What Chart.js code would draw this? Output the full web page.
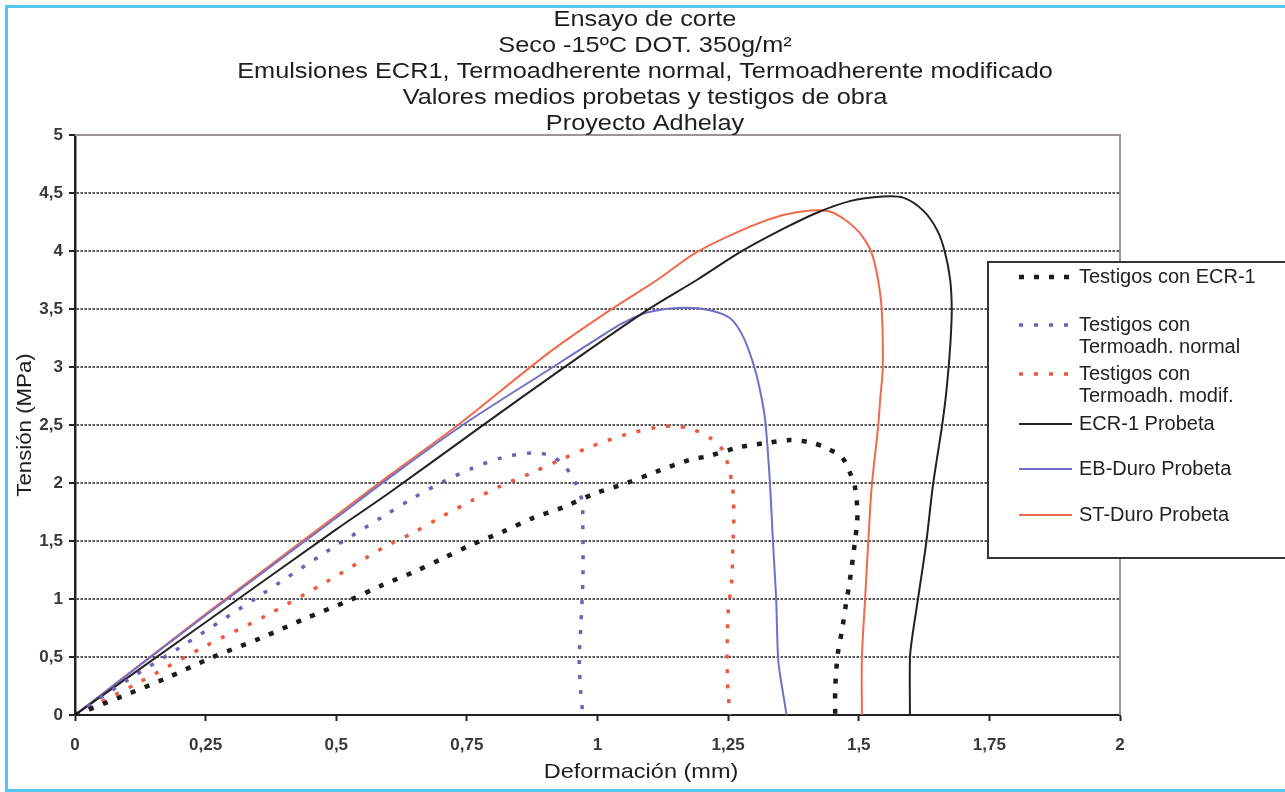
<!DOCTYPE html>
<html>
<head>
<meta charset="utf-8">
<title>Ensayo de corte</title>
<script src="https://cdn.jsdelivr.net/npm/chart.js"></script>
<style>
  html, body { margin: 0; padding: 0; background: #fff; }
</style>
</head>
<body>
<canvas id="myChart" width="1285" height="792"></canvas>
<script>
// --- texts ---
const titleLines = [
    'Ensayo de corte',
    'Seco -15ºC DOT. 350g/m²',
    'Emulsiones ECR1, Termoadherente normal, Termoadherente modificado',
    'Valores medios probetas y testigos de obra',
    'Proyecto Adhelay'
];
const xTitle = 'Deformación (mm)';
const yTitle = 'Tensión (MPa)';
const xTickLabels = ['0', '0,25', '0,5', '0,75', '1', '1,25', '1,5', '1,75', '2'];
const yTickLabels = ['0', '0,5', '1', '1,5', '2', '2,5', '3', '3,5', '4', '4,5', '5'];
const legendLabels = [
    ['Testigos con ECR-1'],
    ['Testigos con', 'Termoadh. normal'],
    ['Testigos con', 'Termoadh. modif.'],
    ['ECR-1 Probeta'],
    ['EB-Duro Probeta'],
    ['ST-Duro Probeta']
];

// --- series (deformation mm / stress MPa) ---
const ecrTestigosX = [0, 0.09, 0.176, 0.264, 0.354, 0.44, 0.526, 0.588, 0.647, 0.704, 0.76, 0.819, 0.877, 0.934, 0.995, 1.056, 1.114, 1.177, 1.21, 1.273, 1.33, 1.368, 1.407, 1.439, 1.468, 1.483, 1.493, 1.497, 1.497, 1.493, 1.489, 1.481, 1.476, 1.468, 1.46, 1.455, 1.455];
const ecrTestigosY = [0, 0.16, 0.32, 0.50, 0.66, 0.83, 0.99, 1.12, 1.23, 1.35, 1.47, 1.58, 1.70, 1.79, 1.91, 2.00, 2.10, 2.20, 2.23, 2.31, 2.35, 2.37, 2.35, 2.30, 2.22, 2.09, 1.96, 1.79, 1.66, 1.51, 1.36, 1.10, 0.97, 0.73, 0.53, 0.24, 0];

const normalTestigosX = [0, 0.1, 0.2, 0.354, 0.482, 0.593, 0.647, 0.704, 0.762, 0.819, 0.877, 0.913, 0.938, 0.957, 0.97, 0.972, 0.972, 0.968, 0.965, 0.968, 0.972];
const normalTestigosY = [0, 0.30, 0.58, 1.03, 1.41, 1.72, 1.87, 2.01, 2.13, 2.22, 2.26, 2.23, 2.14, 2.01, 1.85, 1.59, 1.16, 0.76, 0.47, 0.19, 0];

const modifTestigosX = [0, 0.118, 0.252, 0.367, 0.482, 0.593, 0.647, 0.702, 0.76, 0.813, 0.875, 0.934, 0.991, 1.056, 1.114, 1.15, 1.183, 1.215, 1.24, 1.257, 1.261, 1.259, 1.257, 1.25, 1.248, 1.25, 1.254];
const modifTestigosY = [0, 0.27, 0.60, 0.86, 1.15, 1.45, 1.57, 1.71, 1.85, 1.97, 2.09, 2.21, 2.32, 2.42, 2.48, 2.49, 2.46, 2.39, 2.28, 2.01, 1.74, 1.45, 1.16, 0.88, 0.47, 0.19, 0];

const ecrProbetaX = [0, 0.25, 0.5, 0.603, 0.775, 0.934, 1.095, 1.19, 1.273, 1.355, 1.42, 1.483, 1.546, 1.585, 1.623, 1.65, 1.665, 1.675, 1.678, 1.676, 1.672, 1.666, 1.659, 1.642, 1.629, 1.613, 1.602, 1.598, 1.598];
const ecrProbetaY = [0, 0.80, 1.60, 1.92, 2.48, 2.99, 3.49, 3.75, 3.99, 4.19, 4.33, 4.43, 4.47, 4.46, 4.35, 4.18, 3.99, 3.75, 3.50, 3.25, 3.00, 2.72, 2.48, 1.98, 1.48, 0.99, 0.66, 0.49, 0];

const ebProbetaX = [0, 0.25, 0.5, 0.6, 0.742, 0.915, 1.005, 1.049, 1.095, 1.164, 1.215, 1.254, 1.279, 1.298, 1.311, 1.321, 1.33, 1.336, 1.342, 1.346, 1.355, 1.362];
const ebProbetaY = [0, 0.86, 1.70, 2.04, 2.50, 3.00, 3.26, 3.38, 3.47, 3.51, 3.49, 3.42, 3.26, 3.03, 2.80, 2.54, 2.00, 1.48, 0.99, 0.47, 0.19, 0];

const stProbetaX = [0, 0.25, 0.5, 0.603, 0.733, 0.909, 1.024, 1.114, 1.19, 1.292, 1.355, 1.407, 1.445, 1.47, 1.49, 1.508, 1.525, 1.537, 1.544, 1.546, 1.541, 1.537, 1.525, 1.518, 1.512, 1.506, 1.506];
const stProbetaY = [0, 0.87, 1.72, 2.07, 2.50, 3.13, 3.49, 3.75, 3.99, 4.21, 4.31, 4.35, 4.34, 4.28, 4.21, 4.12, 3.98, 3.75, 3.49, 3.00, 2.72, 2.48, 1.98, 1.48, 0.99, 0.49, 0];

const FONT = "'Liberation Sans', Arial, sans-serif";

function pts(xs, ys) {
    return xs.map((x, i) => ({ x: x, y: ys[i] }));
}

function dotted(label, xs, ys, color, width, dash) {
    return {
        label: label, data: pts(xs, ys), showLine: true, fill: false,
        borderColor: color, borderWidth: width, borderDash: dash,
        pointRadius: 0, tension: 0.3
    };
}

function solid(label, xs, ys, color) {
    return {
        label: label, data: pts(xs, ys), showLine: true, fill: false,
        borderColor: color, borderWidth: 2, pointRadius: 0, tension: 0.3
    };
}

// white page with the light blue frame
const pagePlugin = {
    id: 'page',
    beforeDraw(chart) {
        const ctx = chart.ctx;
        ctx.save();
        ctx.fillStyle = '#fff';
        ctx.fillRect(0, 0, chart.width, chart.height);
        ctx.strokeStyle = '#52c5f0';
        ctx.lineWidth = 3;
        ctx.beginPath();
        ctx.moveTo(6.5, 792);
        ctx.lineTo(6.5, 6.5);
        ctx.lineTo(1285, 6.5);
        ctx.moveTo(6.5, 790.5);
        ctx.lineTo(1285, 790.5);
        ctx.stroke();
        ctx.restore();
    }
};

// grey top and right edge of the plot area
const framePlugin = {
    id: 'frame',
    beforeDatasetsDraw(chart) {
        const { ctx, chartArea: a } = chart;
        ctx.save();
        ctx.strokeStyle = '#9c9593';
        ctx.lineWidth = 2;
        ctx.beginPath();
        ctx.moveTo(a.left, a.top);
        ctx.lineTo(a.right, a.top);
        ctx.lineTo(a.right, a.bottom);
        ctx.stroke();
        ctx.restore();
    }
};

function drawStretched(ctx, text, x, y, sx, rot) {
    ctx.save();
    ctx.translate(x, y);
    if (rot) ctx.rotate(rot);
    ctx.scale(sx, 1);
    ctx.fillText(text, 0, 0);
    ctx.restore();
}

// chart title and axis titles
const textPlugin = {
    id: 'texts',
    afterDraw(chart) {
        const ctx = chart.ctx;
        const a = chart.chartArea;
        ctx.save();
        ctx.fillStyle = '#1e1e1e';
        ctx.textAlign = 'center';
        ctx.textBaseline = 'middle';
        ctx.font = '22px ' + FONT;
        titleLines.forEach((t, i) => drawStretched(ctx, t, 645, 20 + i * 26, 1.15, 0));
        ctx.font = '21px ' + FONT;
        drawStretched(ctx, xTitle, 641, 772, 1.12, 0);
        drawStretched(ctx, yTitle, 25, (a.top + a.bottom) / 2, 1.06, -Math.PI / 2);
        ctx.restore();
    }
};

// legend box sitting over the right of the plot
const legendPlugin = {
    id: 'boxLegend',
    afterDraw(chart) {
        const ctx = chart.ctx;
        const rowY = [277, 325, 374, 424, 469, 515];
        ctx.save();
        ctx.fillStyle = '#fff';
        ctx.fillRect(988, 262, 310, 296);
        ctx.strokeStyle = '#333';
        ctx.lineWidth = 2;
        ctx.strokeRect(988, 262, 310, 296);
        ctx.font = '20px ' + FONT;
        ctx.textAlign = 'left';
        ctx.textBaseline = 'middle';
        chart.data.datasets.forEach((ds, i) => {
            const y = rowY[i];
            ctx.save();
            ctx.strokeStyle = ds.borderColor;
            ctx.lineWidth = ds.borderWidth;
            ctx.setLineDash(ds.borderDash || []);
            ctx.beginPath();
            ctx.moveTo(1019, y);
            ctx.lineTo(1072, y);
            ctx.stroke();
            ctx.restore();
            ctx.fillStyle = '#222';
            legendLabels[i].forEach((line, j) => ctx.fillText(line, 1079, y + j * 22));
        });
        ctx.restore();
    }
};

const ctx = document.getElementById('myChart').getContext('2d');
new Chart(ctx, {
    type: 'scatter',
    data: {
        datasets: [
            dotted('Testigos con ECR-1', ecrTestigosX, ecrTestigosY, '#1c1c1c', 4.5, [5, 10]),
            dotted('Testigos con Termoadh. normal', normalTestigosX, normalTestigosY, '#6c62b6', 3.5, [4, 11]),
            dotted('Testigos con Termoadh. modif.', modifTestigosX, modifTestigosY, '#ea5a3e', 3.5, [4, 11]),
            solid('ECR-1 Probeta', ecrProbetaX, ecrProbetaY, '#222222'),
            solid('EB-Duro Probeta', ebProbetaX, ebProbetaY, '#7070c6'),
            solid('ST-Duro Probeta', stProbetaX, stProbetaY, '#f06a4a')
        ]
    },
    options: {
        responsive: false,
        animation: false,
        layout: { padding: { top: 135, left: 8, right: 165, bottom: 37 } },
        plugins: {
            legend: { display: false },
            title: { display: false },
            tooltip: { enabled: false }
        },
        scales: {
            x: {
                type: 'linear', min: 0, max: 2,
                ticks: {
                    stepSize: 0.25, autoSkip: false, maxRotation: 0, padding: 14,
                    callback: (v, i) => xTickLabels[i],
                    font: { family: FONT, size: 17, weight: 'bold' }, color: '#383838'
                },
                grid: { drawOnChartArea: false, drawTicks: true, tickLength: 6, tickWidth: 2, tickColor: '#222' },
                border: { color: '#222', width: 2 },
                afterFit: s => { s.height = 40; }
            },
            y: {
                type: 'linear', min: 0, max: 5,
                ticks: {
                    stepSize: 0.5, autoSkip: false, padding: 6,
                    callback: (v, i) => yTickLabels[i],
                    font: { family: FONT, size: 17, weight: 'bold' }, color: '#383838'
                },
                grid: { color: '#555', lineWidth: 2, tickLength: 6, tickWidth: 2, tickColor: '#222', tickBorderDash: [] },
                border: { color: '#222', width: 2.5, dash: [2.5, 1.5] },
                afterFit: s => { s.width = 67; }
            }
        }
    },
    plugins: [pagePlugin, framePlugin, textPlugin, legendPlugin]
});
</script>
</body>
</html>
